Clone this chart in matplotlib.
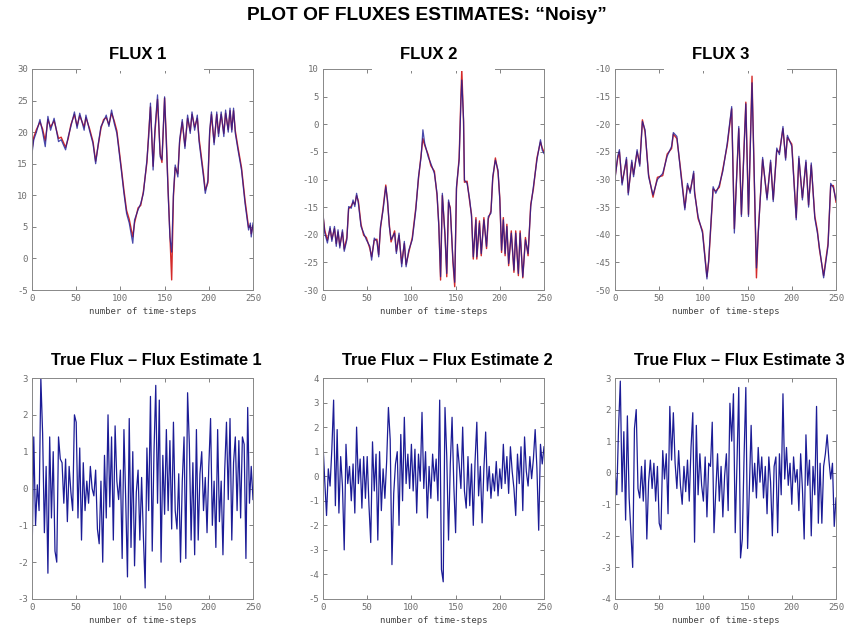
import matplotlib
matplotlib.use("Agg")
import matplotlib.pyplot as plt
from matplotlib.patches import Rectangle

plt.rcParams["axes.unicode_minus"] = False

# ---- data (time step, value) ----
flux1_steps = [0, 2, 5, 9, 12, 15, 18, 21, 25, 30, 33, 38, 41, 44, 48, 51, 54, 59, 61, 65,
               69, 72, 75, 78, 81, 84, 87, 90, 93, 96, 101, 104, 107, 110, 114, 116, 120, 123, 126, 130,
               132, 134, 137, 139, 142, 145, 147, 150, 152, 154, 156, 158, 160, 162, 165, 167, 170, 173, 176, 179,
               181, 184, 187, 189, 194, 196, 199, 201, 203, 206, 209, 211, 214, 217, 219, 222, 224, 226, 228, 230,
               233, 237, 241, 245, 247, 248, 250]
flux1_true = [16.6, 18.8, 20.0, 22.0, 20.0, 17.7, 22.5, 20.3, 22.2, 18.5, 18.8, 17.2, 19.3, 20.9, 23.2, 20.6, 23.0, 20.3, 22.7, 20.3,
              18.2, 15.0, 18.2, 20.9, 21.7, 22.7, 20.9, 23.5, 21.4, 19.8, 14.0, 10.3, 7.1, 5.6, 2.4, 6.1, 7.7, 8.7, 10.3, 15.6,
              19.3, 24.6, 14.0, 20.3, 25.9, 16.1, 15.6, 25.6, 18.2, 10.3, 3.4, 1.0, 10.3, 14.8, 12.9, 18.8, 22.0, 17.4, 22.7, 19.8,
              23.2, 20.3, 22.7, 18.5, 12.9, 10.3, 12.4, 20.3, 23.2, 18.0, 23.2, 19.3, 23.2, 19.3, 23.5, 20.0, 23.8, 20.0, 23.8, 19.8,
              17.2, 14.0, 8.7, 4.5, 5.6, 3.4, 5.6]
flux1_est = [17.2, 19.2, 20.4, 21.6, 20.5, 18.6, 22.0, 20.8, 21.8, 19.0, 19.2, 17.6, 19.0, 21.2, 22.8, 21.0, 22.6, 20.8, 22.3, 20.6,
             18.5, 15.4, 18.0, 20.6, 22.0, 22.3, 21.2, 23.0, 21.8, 20.2, 14.4, 10.8, 7.6, 6.2, 3.4, 5.6, 8.0, 8.4, 10.6, 15.2,
             19.8, 24.0, 14.6, 19.8, 25.2, 16.6, 15.2, 25.4, 18.8, 10.8, 3.8, -3.4, 9.8, 14.4, 13.4, 18.4, 21.6, 17.8, 22.2, 20.2,
             22.8, 20.8, 22.2, 19.0, 13.4, 10.8, 12.0, 19.8, 22.8, 18.4, 22.8, 19.8, 22.8, 19.8, 23.0, 20.4, 23.4, 20.4, 23.4, 20.2,
             17.6, 14.4, 9.2, 4.9, 5.2, 3.9, 5.2]

flux2_steps = [0, 2, 5, 8, 10, 13, 15, 17, 19, 22, 24, 27, 29, 32, 34, 36, 38, 40, 43, 46,
               49, 53, 55, 58, 61, 63, 65, 68, 71, 73, 75, 77, 81, 83, 86, 89, 92, 94, 97, 101,
               105, 108, 111, 113, 115, 119, 122, 126, 129, 131, 133, 135, 138, 140, 142, 144, 147, 149, 151, 154,
               156, 157, 159, 160, 163, 166, 168, 170, 173, 174, 177, 179, 182, 185, 187, 190, 192, 195, 198, 200,
               202, 204, 206, 208, 210, 213, 216, 218, 221, 223, 226, 229, 232, 235, 238, 242, 246, 248, 250]
flux2_true = [-16.1, -19.7, -21.5, -18.5, -21.2, -18.5, -22.1, -19.1, -22.4, -19.1, -23.0, -20.9, -14.9, -15.2, -13.7, -14.9, -12.5, -14.3, -18.5, -19.7,
              -20.9, -22.1, -24.6, -20.6, -21.2, -24.0, -18.5, -15.5, -11.3, -13.7, -18.5, -20.9, -19.7, -23.4, -19.7, -25.8, -21.2, -25.8, -22.8, -20.9,
              -15.5, -9.5, -5.9, -1.0, -3.4, -5.9, -7.1, -8.9, -12.5, -18.5, -27.6, -12.5, -20.3, -27.0, -13.7, -15.5, -24.6, -28.6, -11.3, -6.5,
              4.0, 8.0, 0.8, -10.1, -10.7, -13.7, -16.7, -24.0, -17.3, -24.0, -17.9, -23.4, -17.3, -22.1, -16.7, -16.1, -9.5, -6.5, -8.3, -13.7,
              -22.8, -17.3, -23.4, -18.5, -25.2, -19.7, -26.4, -19.7, -27.0, -19.7, -27.6, -20.9, -23.4, -14.9, -11.3, -6.5, -2.8, -4.7, -5.3]
flux2_est = [-16.6, -19.2, -21.0, -18.9, -20.8, -18.9, -21.6, -19.5, -22.0, -19.5, -22.6, -20.5, -15.3, -14.8, -14.1, -14.5, -12.9, -13.9, -18.1, -20.1,
             -20.5, -22.5, -24.0, -21.0, -20.8, -23.6, -18.9, -15.1, -11.0, -14.1, -18.1, -21.3, -19.3, -23.0, -20.1, -25.2, -21.6, -25.4, -23.2, -20.5,
             -15.1, -9.9, -5.5, -2.6, -3.8, -5.5, -7.5, -8.5, -12.9, -18.1, -28.2, -12.9, -19.9, -27.6, -14.1, -15.1, -25.0, -29.4, -11.7, -6.1,
             5.0, 10.0, 0.4, -10.5, -10.3, -14.1, -16.3, -24.4, -16.9, -24.4, -17.5, -23.8, -16.9, -22.5, -17.1, -15.7, -9.9, -6.1, -8.7, -13.3,
             -23.2, -16.9, -23.8, -18.1, -25.6, -19.3, -26.8, -19.3, -27.4, -19.3, -27.8, -20.5, -23.8, -14.5, -11.7, -6.1, -3.2, -4.3, -5.0]

flux3_steps = [0, 3, 5, 8, 13, 15, 19, 21, 25, 28, 31, 34, 38, 43, 48, 54, 59, 64, 66, 70,
               74, 79, 82, 85, 89, 90, 94, 99, 104, 106, 111, 114, 118, 122, 127, 132, 135, 140, 143, 148,
               151, 155, 160, 162, 167, 172, 176, 179, 183, 186, 190, 193, 195, 200, 205, 208, 212, 216, 219, 222,
               226, 229, 231, 236, 241, 244, 247, 250]
flux3_true = [-30.0, -25.8, -24.6, -31.0, -26.0, -32.8, -26.5, -29.5, -24.6, -27.6, -19.5, -21.0, -29.5, -32.8, -30.0, -28.9, -25.8, -24.0, -21.5, -22.2,
              -28.3, -35.5, -30.7, -32.5, -28.5, -32.5, -36.7, -39.7, -48.0, -44.5, -31.3, -32.5, -31.0, -28.5, -23.4, -16.8, -39.7, -20.4, -36.7, -16.3,
              -36.7, -12.5, -46.0, -40.0, -26.0, -33.7, -26.5, -34.0, -24.3, -25.5, -20.4, -26.5, -22.0, -24.0, -37.3, -25.8, -33.7, -26.5, -35.0, -27.0,
              -37.0, -39.7, -42.0, -47.8, -42.0, -30.7, -31.5, -33.7]
flux3_est = [-29.6, -26.2, -25.0, -30.6, -26.4, -32.4, -26.9, -29.1, -25.0, -27.2, -19.2, -21.4, -29.1, -33.2, -29.6, -29.3, -25.4, -24.4, -21.8, -22.6,
             -27.9, -35.1, -31.1, -32.1, -28.9, -32.1, -37.1, -39.3, -47.6, -44.9, -31.7, -32.1, -31.4, -28.1, -23.8, -17.2, -38.9, -20.8, -36.3, -16.0,
             -36.3, -11.3, -47.8, -39.6, -26.4, -33.3, -26.9, -33.6, -24.7, -25.1, -20.8, -26.1, -22.4, -23.6, -36.9, -26.2, -33.3, -26.9, -34.6, -27.4,
             -36.6, -39.3, -42.4, -47.4, -41.6, -31.1, -31.1, -34.1]

resid_steps = list(range(0, 251, 2))
resid1 = [-2.0, 1.4, -1.0, 0.1, -0.6, 3.0, 1.5, -1.2, 0.6, -2.3, 1.4, -0.8, 1.0, -1.7, -2.0, 1.4, 0.8, 0.7, -0.4, 0.8,
          -0.9, 0.6, -0.1, -0.6, 2.0, 1.8, -0.8, 1.1, -1.4, 0.7, -0.6, 0.2, -0.4, 0.6, 0.0, -0.2, 0.5, -1.1, -1.5, 0.2,
          -2.0, 0.9, -0.8, 2.0, -0.5, 1.4, -1.4, 1.7, 0.2, -0.3, 0.5, -1.9, 1.6, -0.3, -2.4, 1.9, -1.6, 1.0, -2.1, -0.1,
          0.5, -1.4, 0.3, -1.3, -2.7, 1.1, -0.6, 2.5, -1.7, 1.0, 2.8, -0.4, 2.4, -2.0, 0.9, -0.7, 1.6, -0.6, 1.3, -1.1,
          1.8, -0.6, -1.1, 0.4, -2.0, 0.2, 1.4, -1.9, 2.6, 1.2, -1.4, 0.7, -1.8, 1.6, -1.4, 0.4, 1.0, -0.6, 0.3, -1.2,
          0.6, 1.9, -1.0, 0.2, -1.6, 1.6, -0.9, 0.2, -1.8, 0.5, 1.8, -0.3, 1.9, -1.4, 0.7, 1.4, -0.6, 1.3, -0.8, 1.4,
          1.2, -1.9, 2.2, -0.4, 0.6, -0.3]
resid2 = [1.3, -0.2, -1.6, 0.3, -0.4, 1.1, 3.1, -1.2, 1.9, -1.5, 0.8, -0.4, -3.0, 1.3, -0.3, 0.4, -1.0, 0.5, -1.5, 2.0,
          -0.3, 0.7, -1.3, 0.8, -0.9, 0.8, -1.2, -2.7, 1.4, -0.6, 0.9, -2.6, 1.0, -1.4, 0.3, -0.9, 0.6, 2.8, 1.5, -3.6,
          -0.7, 0.5, 1.0, -2.0, 1.7, -1.0, 2.4, -0.3, 0.9, -0.5, 1.3, -0.6, 1.1, -1.5, 0.9, -0.2, 2.6, -0.5, 1.0, -1.7,
          0.4, -0.9, 0.9, -0.2, 0.7, -1.0, 3.1, -3.8, -4.3, 2.8, 0.8, -2.6, 0.5, 2.4, -0.4, -2.3, 1.3, 0.5, -0.5, 2.0,
          -0.6, -1.3, 0.8, -1.2, 0.5, -2.0, 0.6, 2.2, -0.8, 0.4, -1.9, 0.3, 1.8, -0.6, 0.4, -0.9, 0.1, -0.6, 0.6, -0.8,
          0.3, -0.5, 1.3, -0.3, 0.8, -0.7, 1.2, 0.2, -0.5, -1.6, 0.9, -0.3, 1.2, -1.4, 1.6, 0.2, -0.4, 0.8, -0.1, 0.7,
          1.9, 0.3, -2.2, 1.3, 0.5, 1.2]
resid3 = [0.1, -0.7, 1.4, 2.9, -0.6, 1.3, -1.5, 1.8, -0.8, -1.9, -3.0, 1.4, 2.0, -0.5, -0.8, 0.2, -0.9, 0.4, -2.1, -0.3,
          0.4, -0.5, 0.3, -0.9, 0.2, -1.6, -1.8, 0.7, -0.2, 0.6, -1.3, 2.1, 0.4, 1.9, 0.3, -0.5, 0.7, -0.4, -1.0, 0.2,
          -0.6, 0.4, -0.9, 0.8, 1.9, -2.2, 1.5, -0.7, 0.6, -0.4, -0.9, 0.5, -1.4, 0.3, 0.2, 1.6, -1.9, -0.6, 0.6, -0.9,
          0.2, -1.4, -0.1, 0.6, -1.2, 2.2, 1.0, 2.5, -1.9, 0.3, 2.7, -2.7, -2.1, 0.5, 2.7, -2.4, -0.5, 1.5, -0.6, 0.3,
          -0.8, 0.8, -0.3, 0.5, -0.8, 0.2, -1.3, 0.5, -0.3, -2.0, 0.2, 0.5, -1.9, 0.6, -0.7, 2.5, -0.2, 0.8, -0.4, 0.3,
          -1.0, 0.5, -0.3, 0.1, -1.2, 0.6, -0.5, -2.1, 1.2, -0.4, 0.4, -2.0, 0.2, -0.7, 2.1, -1.6, 0.3, -1.6, 0.2, 0.6,
          1.2, 0.4, -0.2, 0.3, -1.7, -0.8]

top_titles = ["FLUX 1", "FLUX 2", "FLUX 3"]
bottom_titles = ["True Flux \u2013 Flux Estimate 1", "True Flux \u2013 Flux Estimate 2",
                 "True Flux \u2013 Flux Estimate 3"]
top_ylims = [(-5, 30), (-30, 10), (-50, -10)]
bottom_ylims = [(-3, 3), (-5, 4), (-4, 3)]

BLUE = "#1c1c96"
RED = "#d42a2a"
GRAY = "#6e6e6e"


def style_axes(ax, ylim):
    ax.set_xlim(0, 250)
    ax.set_ylim(*ylim)
    ax.set_xticks([0, 50, 100, 150, 200, 250])
    ax.tick_params(direction="in", top=True, right=True, length=3, width=0.6,
                   colors=GRAY, labelsize=6.5, pad=3)
    for lab in ax.get_xticklabels() + ax.get_yticklabels():
        lab.set_family("DejaVu Sans Mono")
    for sp in ax.spines.values():
        sp.set_color("#888888")
        sp.set_linewidth(0.7)
    ax.set_xlabel("number of time-steps", family="DejaVu Sans Mono", fontsize=6.5,
                  color="#444444", labelpad=3)


fig = plt.figure(figsize=(8.45, 6.32), dpi=100)
fig.text(0.505, 0.975, "PLOT OF FLUXES ESTIMATES: \u201cNoisy\u201d", ha="center", va="center",
         family="Liberation Sans", weight="bold", fontsize=13.8)

lefts = [32 / 845, 323 / 845, 615 / 845]
w = 221 / 845
h = 221 / 632

top_data = [(flux1_steps, flux1_true, flux1_est),
            (flux2_steps, flux2_true, flux2_est),
            (flux3_steps, flux3_true, flux3_est)]
for i, (steps, true_vals, est_vals) in enumerate(top_data):
    ax = fig.add_axes([lefts[i], 1 - 290 / 632, w, h])
    ax.plot(steps, est_vals, color=RED, lw=1.0)
    ax.plot(steps, true_vals, color=BLUE, lw=0.9, alpha=0.8)
    style_axes(ax, top_ylims[i])
    # white title box that hides the middle of the top frame line
    ax.add_patch(Rectangle((0.22, 0.99), 0.56, 0.12, transform=ax.transAxes,
                           facecolor="white", edgecolor="none", clip_on=False, zorder=5))
    ax.text(0.48, 1.065, top_titles[i], transform=ax.transAxes, ha="center", va="center",
            family="Liberation Sans", weight="bold", fontsize=12, zorder=6)

resids = [resid1, resid2, resid3]
for i, vals in enumerate(resids):
    ax = fig.add_axes([lefts[i], 1 - 599 / 632, w, h])
    ax.plot(resid_steps, vals, color=BLUE, lw=0.9)
    style_axes(ax, bottom_ylims[i])
    ax.text(1.04, 1.08, bottom_titles[i], transform=ax.transAxes, ha="right", va="center",
            family="Liberation Sans", weight="bold", fontsize=11.8)

fig.savefig("out.png", dpi=100)
